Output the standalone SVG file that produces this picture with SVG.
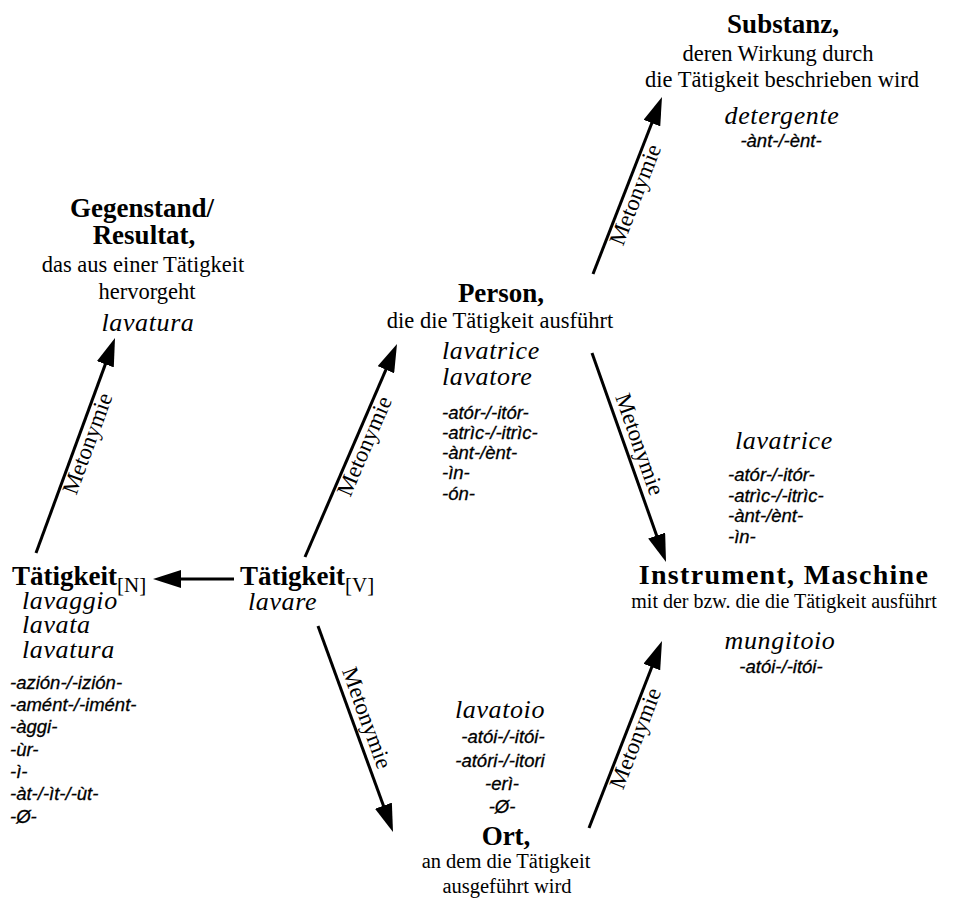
<svg xmlns="http://www.w3.org/2000/svg" width="954" height="901" viewBox="0 0 954 901">
<style>
text{fill:#000}
.b{font-family:"Liberation Serif",serif;font-weight:bold;font-size:27px}
.r{font-family:"Liberation Serif",serif;font-size:22.5px}
.r2{font-family:"Liberation Serif",serif;font-size:20.5px}
.i{font-family:"Liberation Serif",serif;font-style:italic;font-size:26px;letter-spacing:0.6px}
.s{font-family:"Liberation Sans",sans-serif;font-style:italic;font-size:18.5px;stroke:#000;stroke-width:0.3}
.sub{font-family:"Liberation Serif",serif;font-size:21px;font-weight:normal}
.m{font-family:"Liberation Serif",serif;font-size:23px}
.c{text-anchor:middle}
.ln{stroke:#000;stroke-width:3;fill:none;marker-end:url(#ah)}
</style>
<defs>
<marker id="ah" markerWidth="28" markerHeight="18" refX="14" refY="9" orient="auto" markerUnits="userSpaceOnUse"><path d="M0,0 L28,9 L0,18 z" fill="#000"/></marker>
</defs>
<rect width="954" height="901" fill="#fff"/>

<g id="n-substanz">
<text class="b c" x="783" y="33">Substanz,</text>
<text class="r c" x="778" y="61">deren Wirkung durch</text>
<text class="r c" x="782" y="87">die Tätigkeit beschrieben wird</text>
<text class="i c" x="782" y="124">detergente</text>
<text class="s c" x="781" y="147">-ànt-/-ènt-</text>
</g>

<g id="n-gegenstand">
<text class="b c" x="142" y="217">Gegenstand/</text>
<text class="b c" x="144" y="244">Resultat,</text>
<text class="r c" x="143" y="272">das aus einer Tätigkeit</text>
<text class="r c" x="147" y="299">hervorgeht</text>
<text class="i c" x="148" y="331">lavatura</text>
</g>

<g id="n-person">
<text class="b c" x="501" y="302">Person,</text>
<text class="r c" x="500" y="328">die die Tätigkeit ausführt</text>
<text class="i" x="442" y="359">lavatrice</text>
<text class="i" x="442" y="385">lavatore</text>
<text class="s" x="442" y="419">-atór-/-itór-</text>
<text class="s" x="442" y="439">-atrìc-/-itrìc-</text>
<text class="s" x="442" y="459">-ànt-/ènt-</text>
<text class="s" x="442" y="479">-ìn-</text>
<text class="s" x="442" y="500">-ón-</text>
</g>

<g id="n-instrument">
<text class="i" x="735" y="449">lavatrice</text>
<text class="s" x="728" y="481">-atór-/-itór-</text>
<text class="s" x="728" y="502">-atrìc-/-itrìc-</text>
<text class="s" x="728" y="522">-ànt-/ènt-</text>
<text class="s" x="728" y="543">-ìn-</text>
<text class="b c" x="784" y="584" style="font-size:28px;letter-spacing:1.3px">Instrument, Maschine</text>
<text class="r2 c" x="784" y="608" style="font-size:20px">mit der bzw. die die Tätigkeit ausführt</text>
<text class="i c" x="780" y="649">mungitoio</text>
<text class="s c" x="781" y="673">-atói-/-itói-</text>
</g>

<g id="n-taetigkeit-n">
<text class="b" x="12" y="585">Tätigkeit<tspan class="sub" dy="7">[N]</tspan></text>
<text class="i" x="22" y="609">lavaggio</text>
<text class="i" x="22" y="633">lavata</text>
<text class="i" x="22" y="658">lavatura</text>
<text class="s" x="10" y="689">-azión-/-izión-</text>
<text class="s" x="10" y="711">-amént-/-imént-</text>
<text class="s" x="10" y="733">-àggi-</text>
<text class="s" x="10" y="756">-ùr-</text>
<text class="s" x="10" y="778">-ì-</text>
<text class="s" x="10" y="800">-àt-/-ìt-/-ùt-</text>
<text class="s" x="10" y="823">-Ø-</text>
</g>

<g id="n-taetigkeit-v">
<text class="b" x="240" y="585">Tätigkeit<tspan class="sub" dy="7">[V]</tspan></text>
<text class="i" x="248" y="610">lavare</text>
</g>

<g id="n-ort">
<text class="i c" x="500" y="718">lavatoio</text>
<text class="s c" x="503" y="743">-atói-/-itói-</text>
<text class="s c" x="500" y="767">-atóri-/-itori</text>
<text class="s c" x="502" y="790">-erì-</text>
<text class="s c" x="502" y="813">-Ø-</text>
<text class="b c" x="506" y="845">Ort,</text>
<text class="r2 c" x="506" y="868">an dem die Tätigkeit</text>
<text class="r2 c" x="507" y="893">ausgeführt wird</text>
</g>

<g id="connectors">
<line class="ln" x1="36" y1="553" x2="110.17" y2="351.14"/>
<line class="ln" x1="305" y1="557" x2="391.45" y2="356.85"/>
<line class="ln" x1="593" y1="274" x2="656.92" y2="110.04"/>
<line class="ln" x1="592" y1="353" x2="661.33" y2="548.8"/>
<line class="ln" x1="318" y1="626" x2="388.21" y2="818.84"/>
<line class="ln" x1="589" y1="828" x2="656.91" y2="654.04"/>
<line class="ln" x1="234" y1="579" x2="167" y2="579"/>
<text class="m c" transform="translate(94.5,446.1) rotate(-69.83)">Metonymie</text>
<text class="m c" transform="translate(371.2,449.1) rotate(-66.64)">Metonymie</text>
<text class="m c" transform="translate(642.2,197.3) rotate(-68.7)">Metonymie</text>
<text class="m c" transform="translate(632.6,446.8) rotate(70.5)">Metonymie</text>
<text class="m c" transform="translate(359.8,720.4) rotate(70)">Metonymie</text>
<text class="m c" transform="translate(642.3,741) rotate(-68.68)">Metonymie</text>
</g>
</svg>
